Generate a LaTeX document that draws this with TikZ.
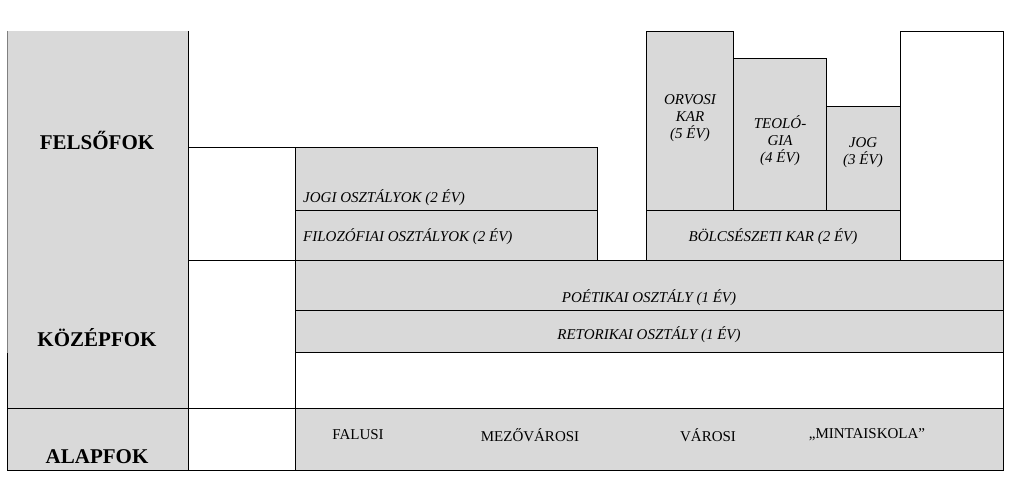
\documentclass[tikz,border=0pt]{standalone}
\usepackage{fontspec}
\setmainfont{Liberation Serif}
\begin{document}
\begin{tikzpicture}[x=1pt,y=-1pt,
  cell/.style={fill=boxgray,draw=black,line width=0.9pt},
  lbl/.style={font=\fontsize{15}{17}\selectfont\itshape,align=center,inner sep=0pt},
  lvl/.style={font=\fontsize{21}{24}\selectfont\bfseries,inner sep=0pt},
  plain/.style={font=\fontsize{15}{17}\selectfont,inner sep=0pt}]
\definecolor{boxgray}{RGB}{217,217,217}
\useasboundingbox (0,0) rectangle (1011,481);
% left column
\fill[boxgray] (7,31) rectangle (188,470);
\draw[gray,line width=0.6pt] (7,31)--(7,470);
\draw[line width=0.9pt] (7,408)--(1003,408);
\draw[line width=0.9pt] (7,470)--(1003,470);
\draw[line width=0.9pt] (7,353)--(7,470);
\draw[line width=0.9pt] (188,31)--(188,470);
\draw[line width=0.9pt] (188,147)--(295,147);
\draw[line width=0.9pt] (188,260)--(1003,260);
% felsofok
\draw[cell] (295,147) rectangle (597,210);
\draw[cell] (295,210) rectangle (597,260);
\draw[cell] (646,31) rectangle (733,210);
\draw[cell] (733,58) rectangle (826,210);
\draw[cell] (826,106) rectangle (900,210);
\draw[cell] (646,210) rectangle (900,260);
\draw[line width=0.9pt] (900,260)--(900,31)--(1003,31)--(1003,260);
% kozepfok
\draw[cell] (295,260) rectangle (1003,310);
\draw[cell] (295,310) rectangle (1003,352);
\draw[line width=0.9pt] (295,352) rectangle (1003,408);
% alapfok
\draw[cell] (295,408) rectangle (1003,470);
% labels
\node[lvl] (fel) at (97,140) {FELSŐFOK};
\node[lvl] (koz) at (97,338) {KÖZÉPFOK};
\node[lvl] (ala) at (97,457) {ALAPFOK};
\node[lbl,anchor=west] (jogi) at (303,198) {JOGI OSZTÁLYOK (2 ÉV)};
\node[lbl,anchor=west] (filo) at (303,237) {FILOZÓFIAI OSZTÁLYOK (2 ÉV)};
\node[lbl] (orv) at (690,118) {ORVOSI\\KAR\\(5 ÉV)};
\node[lbl] (teo) at (780,141) {TEOLÓ-\\GIA\\(4 ÉV)};
\node[lbl] (jog) at (863,153) {JOG\\(3 ÉV)};
\node[lbl] (bolcs) at (773,237) {BÖLCSÉSZETI KAR (2 ÉV)};
\node[lbl] (poet) at (649,298) {POÉTIKAI OSZTÁLY (1 ÉV)};
\node[lbl] (ret) at (649,335) {RETORIKAI OSZTÁLY (1 ÉV)};
\node[plain] (fal) at (358,435) {FALUSI};
\node[plain] (mez) at (530,435) {MEZŐVÁROSI};
\node[plain] (var) at (708,435) {VÁROSI};
\node[plain] (min) at (867,435) {„MINTAISKOLA”};
\end{tikzpicture}
\end{document}
